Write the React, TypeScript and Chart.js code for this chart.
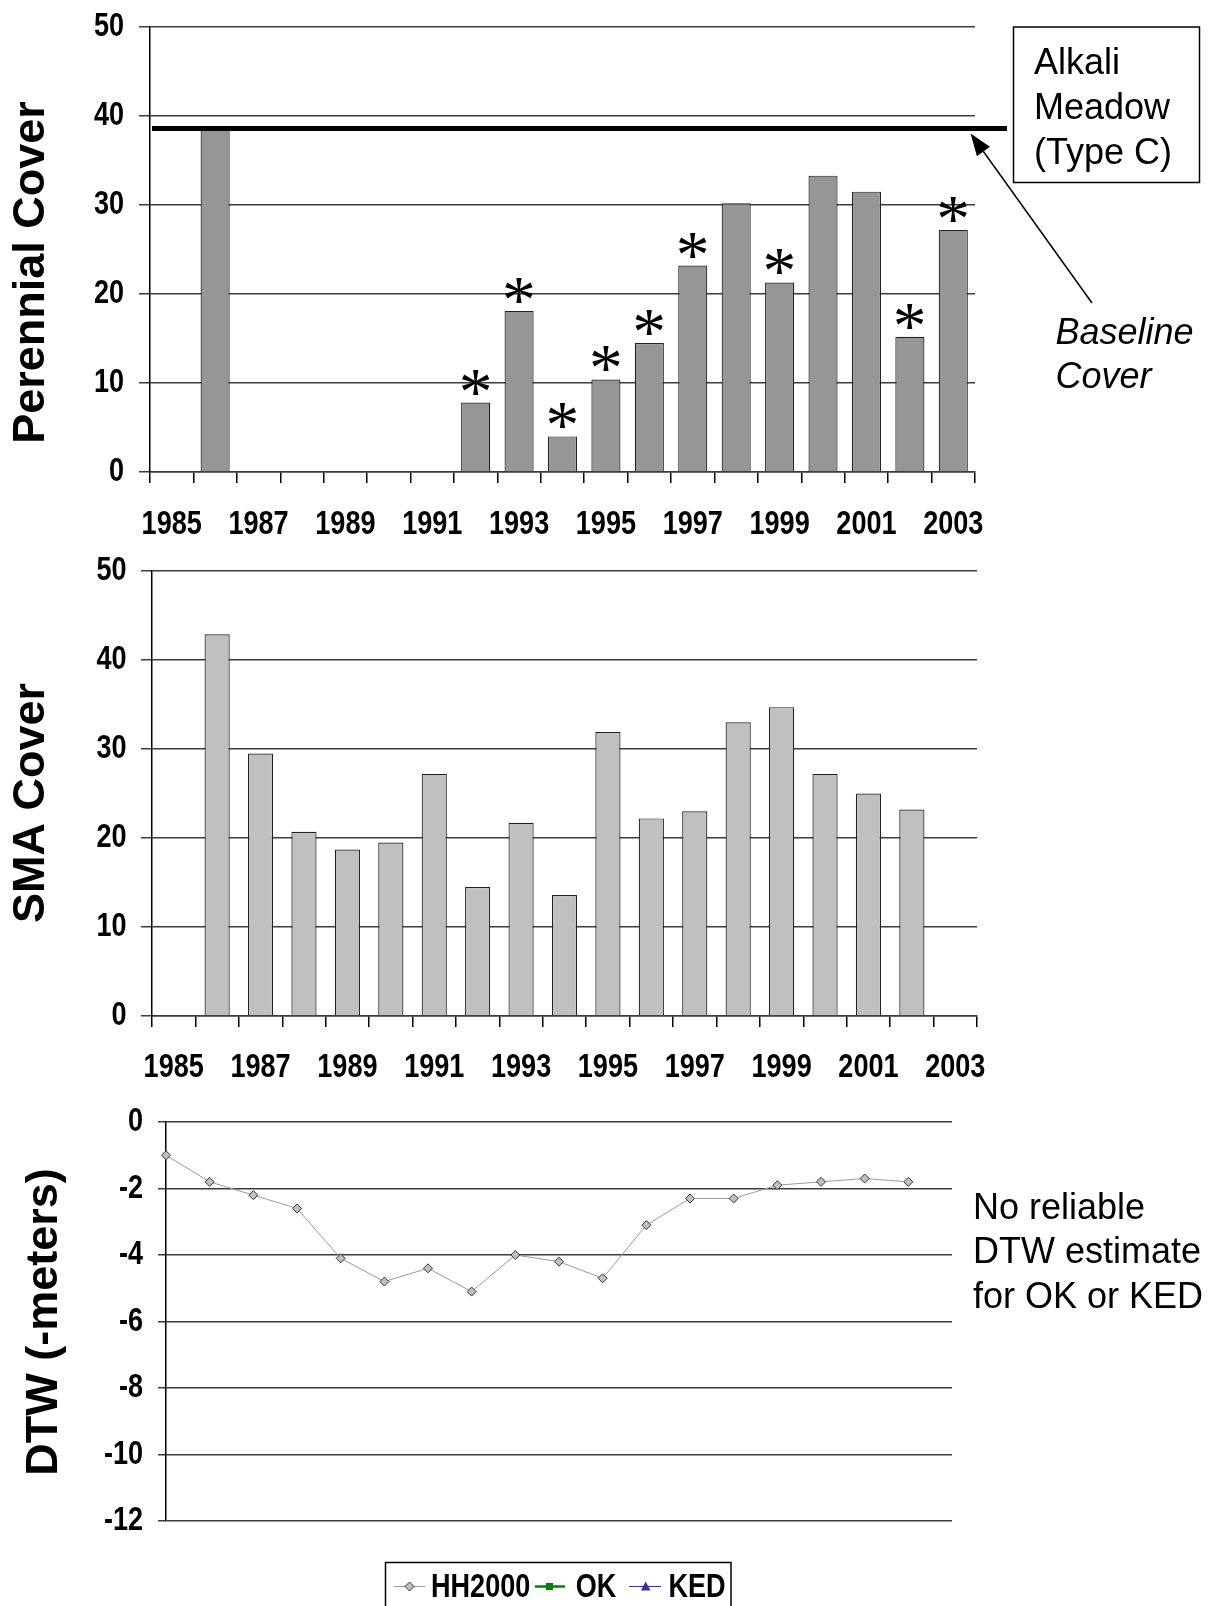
import React, { useEffect, useRef } from "react";
import { Chart, registerables } from "chart.js";

Chart.register(...registerables);

// ---------------- data ----------------
const years = [
  "1985", "1986", "1987", "1988", "1989", "1990", "1991", "1992", "1993", "1994",
  "1995", "1996", "1997", "1998", "1999", "2000", "2001", "2002", "2003",
];
const yearLabelsShown = ["1985", "1987", "1989", "1991", "1993", "1995", "1997", "1999", "2001", "2003"];

const perennialCover = [
  null, 38.6, null, null, null, null, null, 7.8, 18.1, 4.0,
  10.4, 14.5, 23.2, 30.2, 21.3, 33.3, 31.5, 15.2, 27.2,
];
const smaCover = [
  null, 42.9, 29.5, 20.7, 18.7, 19.5, 27.2, 14.5, 21.7, 13.6,
  31.9, 22.2, 23.0, 33.0, 34.7, 27.2, 25.0, 23.2, null,
];
const dtwHH2000 = [
  -1.0, -1.8, -2.2, -2.6, -4.1, -4.8, -4.4, -5.1, -4.0, -4.2,
  -4.7, -3.1, -2.3, -2.3, -1.9, -1.8, -1.7, -1.8, null,
];
const dtwOK: (number | null)[] = [];
const dtwKED: (number | null)[] = [];
const seriesNames = ["HH2000", "OK", "KED"];

const significantYears = ["1992", "1993", "1994", "1995", "1996", "1997", "1999", "2002", "2003"];
const baselineCover = 38.6;
const coverTicks = [0, 10, 20, 30, 40, 50];
const dtwTicks = [0, -2, -4, -6, -8, -10, -12];

const boxLines = ["Alkali", "Meadow", "(Type C)"];
const baselineLabel = ["Baseline", "Cover"];
const noteLines = ["No reliable", "DTW estimate", "for OK or KED"];

// ---------------- styles ----------------
const W = 1213;
const SANS = "'Liberation Sans', Arial, Helvetica, sans-serif";
const SERIF = "'Liberation Serif', 'Times New Roman', serif";
const GRID = "#3c3c3c";
const NARROW_SCALE = 0.82;

function fillNarrow(ctx: CanvasRenderingContext2D, text: string, x: number, y: number, align: CanvasTextAlign, size = 33) {
  ctx.save();
  ctx.translate(x, y);
  ctx.scale(NARROW_SCALE, 1);
  ctx.font = `bold ${size}px ${SANS}`;
  ctx.textAlign = align;
  ctx.textBaseline = "middle";
  ctx.fillStyle = "#000";
  ctx.fillText(text, 0, 0);
  ctx.restore();
}

function drawYTitle(ctx: CanvasRenderingContext2D, text: string, baselineX: number, centerY: number) {
  ctx.save();
  ctx.translate(baselineX, centerY);
  ctx.rotate(-Math.PI / 2);
  ctx.font = `bold 45px ${SANS}`;
  ctx.textAlign = "center";
  ctx.textBaseline = "alphabetic";
  ctx.fillStyle = "#000";
  ctx.fillText(text, 0, 0);
  ctx.restore();
}

function drawAsterisk(ctx: CanvasRenderingContext2D, cx: number, bottomY: number) {
  ctx.save();
  ctx.font = `100px ${SERIF}`;
  const m = ctx.measureText("*");
  const h = m.actualBoundingBoxAscent + m.actualBoundingBoxDescent;
  const size = (100 * 25) / h;
  ctx.font = `${size}px ${SERIF}`;
  const m2 = ctx.measureText("*");
  ctx.textAlign = "left";
  ctx.textBaseline = "alphabetic";
  ctx.fillStyle = "#000";
  const x0 = cx - (m2.actualBoundingBoxRight - m2.actualBoundingBoxLeft) / 2;
  const y0 = bottomY - m2.actualBoundingBoxDescent;
  ctx.fillText("*", x0, y0);
  ctx.restore();
}

// tick labels drawn from the library's scales (narrow bold look)
function axisLabels(id: string, yLabelRight: number, xLabelCenterY: number | null) {
  return {
    id,
    afterDraw(chart: any) {
      const ctx: CanvasRenderingContext2D = chart.ctx;
      const ys = chart.scales.y;
      ys.ticks.forEach((t: any) => fillNarrow(ctx, String(t.value), yLabelRight, ys.getPixelForValue(t.value), "right"));
      if (xLabelCenterY != null) {
        const xs = chart.scales.x;
        years.forEach((yr, i) => {
          if (yearLabelsShown.includes(yr)) fillNarrow(ctx, yr, xs.getPixelForTick(i), xLabelCenterY, "center");
        });
      }
    },
  };
}

const perennialExtras = {
  id: "perennialExtras",
  afterDatasetsDraw(chart: any) {
    const ctx: CanvasRenderingContext2D = chart.ctx;
    const y = chart.scales.y;
    const area = chart.chartArea;
    ctx.save();
    // baseline cover line
    const yb = y.getPixelForValue(baselineCover);
    ctx.strokeStyle = "#000";
    ctx.lineWidth = 5;
    ctx.beginPath();
    ctx.moveTo(area.left + 2, yb);
    ctx.lineTo(1007, yb);
    ctx.stroke();

    // asterisks
    const meta = chart.getDatasetMeta(0);
    significantYears.forEach((yr) => {
      const i = years.indexOf(yr);
      const bar = meta.data[i];
      if (!bar || perennialCover[i] == null) return;
      drawAsterisk(ctx, bar.x, bar.y - 8);
    });

    // label box
    ctx.lineWidth = 1.5;
    ctx.strokeStyle = "#000";
    ctx.strokeRect(1013.5, 27, 186, 155.5);
    ctx.fillStyle = "#000";
    ctx.font = `36px ${SANS}`;
    ctx.textAlign = "left";
    ctx.textBaseline = "alphabetic";
    boxLines.forEach((t, k) => ctx.fillText(t, 1034, 74 + k * 44.8));

    // arrow
    const sx = 1092, sy = 303, tx = 970.6, ty = 133.6;
    const dx = tx - sx, dy = ty - sy;
    const len = Math.hypot(dx, dy);
    const ux = dx / len, uy = dy / len;
    const hl = 22, hw = 8;
    const bx = tx - ux * hl, by = ty - uy * hl;
    const px = -uy, py = ux;
    ctx.lineWidth = 1.5;
    ctx.beginPath();
    ctx.moveTo(sx, sy);
    ctx.lineTo(bx, by);
    ctx.stroke();
    ctx.beginPath();
    ctx.moveTo(tx, ty);
    ctx.lineTo(bx + px * hw, by + py * hw);
    ctx.lineTo(bx - px * hw, by - py * hw);
    ctx.closePath();
    ctx.fill();

    // italic label
    ctx.font = `italic 36px ${SANS}`;
    baselineLabel.forEach((t, k) => ctx.fillText(t, 1055.5, 344.4 + k * 44));

    drawYTitle(ctx, "Perennial Cover", 43.5, 272.5);
    ctx.restore();
  },
};

const smaExtras = {
  id: "smaExtras",
  afterDraw(chart: any) {
    drawYTitle(chart.ctx, "SMA Cover", 44.3, 258);
  },
};

function drawDiamond(ctx: CanvasRenderingContext2D, x: number, y: number, r: number) {
  ctx.beginPath();
  ctx.moveTo(x, y - r);
  ctx.lineTo(x + r, y);
  ctx.lineTo(x, y + r);
  ctx.lineTo(x - r, y);
  ctx.closePath();
  ctx.fillStyle = "#c0c0c0";
  ctx.fill();
  ctx.strokeStyle = "#333";
  ctx.lineWidth = 1;
  ctx.stroke();
}

const dtwExtras = {
  id: "dtwExtras",
  afterDraw(chart: any) {
    const ctx: CanvasRenderingContext2D = chart.ctx;
    ctx.save();
    drawYTitle(ctx, "DTW (-meters)", 57.3, 237);

    ctx.fillStyle = "#000";
    ctx.font = `36px ${SANS}`;
    ctx.textAlign = "left";
    ctx.textBaseline = "alphabetic";
    noteLines.forEach((t, k) => ctx.fillText(t, 973, 133.5 + k * 44.8));

    // legend
    const top = 477.5;
    ctx.strokeStyle = "#000";
    ctx.lineWidth = 1.5;
    ctx.strokeRect(385.5, top, 345.5, 60);
    const cy = top + 24;

    // HH2000
    ctx.strokeStyle = "#9a9a9a";
    ctx.lineWidth = 1;
    ctx.beginPath();
    ctx.moveTo(394, cy);
    ctx.lineTo(425, cy);
    ctx.stroke();
    drawDiamond(ctx, 409.5, cy, 4.5);
    fillNarrow(ctx, seriesNames[0], 431, cy + 1, "left");

    // OK
    ctx.strokeStyle = "#008000";
    ctx.lineWidth = 2.5;
    ctx.beginPath();
    ctx.moveTo(535, cy);
    ctx.lineTo(565, cy);
    ctx.stroke();
    ctx.fillStyle = "#008000";
    ctx.fillRect(546, cy - 3.5, 7, 7);
    fillNarrow(ctx, seriesNames[1], 575.8, cy + 1, "left");

    // KED
    ctx.strokeStyle = "#333399";
    ctx.lineWidth = 1;
    ctx.beginPath();
    ctx.moveTo(629, cy);
    ctx.lineTo(661, cy);
    ctx.stroke();
    ctx.fillStyle = "#333399";
    ctx.beginPath();
    ctx.moveTo(645.7, cy - 5);
    ctx.lineTo(650.5, cy + 4);
    ctx.lineTo(640.9, cy + 4);
    ctx.closePath();
    ctx.fill();
    fillNarrow(ctx, seriesNames[2], 668.4, cy + 1, "left");
    ctx.restore();
  },
};

type Frame = { canvasH: number; top: number; bottom: number; left: number; right: number };

function barConfig(data: (number | null)[], fill: string, barPct: number, f: Frame, plugins: any[]) {
  return {
    type: "bar",
    data: {
      labels: years,
      datasets: [
        {
          data,
          backgroundColor: fill,
          borderColor: "#222",
          borderWidth: 1.2,
          barPercentage: barPct,
          categoryPercentage: 1,
        },
      ],
    },
    options: {
      responsive: false,
      animation: false,
      events: [],
      layout: { padding: { left: 0, top: f.top, right: W - f.right, bottom: 0 } },
      plugins: { legend: { display: false }, tooltip: { enabled: false }, title: { display: false } },
      scales: {
        x: {
          type: "category",
          offset: true,
          grid: { offset: true, drawOnChartArea: false, drawTicks: true, tickLength: 11, color: "#000", lineWidth: 1.5 },
          border: { display: true, color: GRID, width: 1.5 },
          ticks: { display: false, autoSkip: false, maxRotation: 0, minRotation: 0 },
          afterFit: (s: any) => {
            s.height = f.canvasH - f.bottom;
          },
        },
        y: {
          min: 0,
          max: 50,
          afterBuildTicks: (s: any) => {
            s.ticks = coverTicks.map((v) => ({ value: v }));
          },
          grid: { color: GRID, lineWidth: 1.5, tickLength: 11, drawTicks: true },
          border: { display: true, color: "#000", width: 1.5 },
          ticks: { display: false },
          afterFit: (s: any) => {
            s.width = f.left;
          },
        },
      },
    },
    plugins,
  };
}

function perennialConfig() {
  return barConfig(
    perennialCover,
    "#969696",
    0.67,
    { canvasH: 545, top: 27, bottom: 472, left: 150, right: 975 },
    [axisLabels("perLabels", 124, 524.5), perennialExtras]
  );
}

function smaConfig() {
  return barConfig(
    smaCover,
    "#c0c0c0",
    0.58,
    { canvasH: 540, top: 26, bottom: 471, left: 152, right: 977 },
    [axisLabels("smaLabels", 126.5, 523), smaExtras]
  );
}

function dtwConfig() {
  const f = { canvasH: 521, top: 37, bottom: 436, left: 166, right: 952 };
  return {
    type: "line",
    data: {
      labels: years,
      datasets: [
        {
          label: seriesNames[0],
          data: dtwHH2000,
          borderColor: "#9a9a9a",
          borderWidth: 1,
          pointStyle: "rectRot",
          pointRadius: 4.5,
          pointBackgroundColor: "#c0c0c0",
          pointBorderColor: "#333",
          pointBorderWidth: 1,
          tension: 0,
          clip: false,
        },
        {
          label: seriesNames[1],
          data: dtwOK,
          borderColor: "#008000",
          backgroundColor: "#008000",
          borderWidth: 2.5,
          pointStyle: "rect",
          pointRadius: 3.5,
        },
        {
          label: seriesNames[2],
          data: dtwKED,
          borderColor: "#333399",
          backgroundColor: "#333399",
          borderWidth: 1,
          pointStyle: "triangle",
          pointRadius: 4.5,
        },
      ],
    },
    options: {
      responsive: false,
      animation: false,
      events: [],
      layout: { padding: { left: 0, top: f.top, right: W - f.right, bottom: f.canvasH - f.bottom } },
      plugins: { legend: { display: false }, tooltip: { enabled: false }, title: { display: false } },
      scales: {
        x: { type: "category", display: false, offset: false },
        y: {
          min: -12,
          max: 0,
          afterBuildTicks: (s: any) => {
            s.ticks = dtwTicks.map((v) => ({ value: v }));
          },
          grid: { color: GRID, lineWidth: 1.5, tickLength: 8, drawTicks: true },
          border: { display: true, color: "#000", width: 1.5 },
          ticks: { display: false },
          afterFit: (s: any) => {
            s.width = f.left;
          },
        },
      },
    },
    plugins: [axisLabels("dtwLabels", 143, null), dtwExtras],
  };
}

function ChartCanvas({ top, height, makeConfig }: { top: number; height: number; makeConfig: () => any }) {
  const ref = useRef<HTMLCanvasElement>(null);
  useEffect(() => {
    if (!ref.current) return;
    const chart = new Chart(ref.current, makeConfig());
    return () => chart.destroy();
  }, []);
  return (
    <canvas
      ref={ref}
      width={W}
      height={height}
      style={{ position: "absolute", left: 0, top, width: W, height, display: "block" }}
    />
  );
}

export default function App() {
  return (
    <div style={{ position: "absolute", left: 0, top: 0, width: W, height: 1606, background: "#fff", overflow: "hidden" }}>
      <ChartCanvas top={0} height={545} makeConfig={perennialConfig} />
      <ChartCanvas top={545} height={540} makeConfig={smaConfig} />
      <ChartCanvas top={1085} height={521} makeConfig={dtwConfig} />
    </div>
  );
}
